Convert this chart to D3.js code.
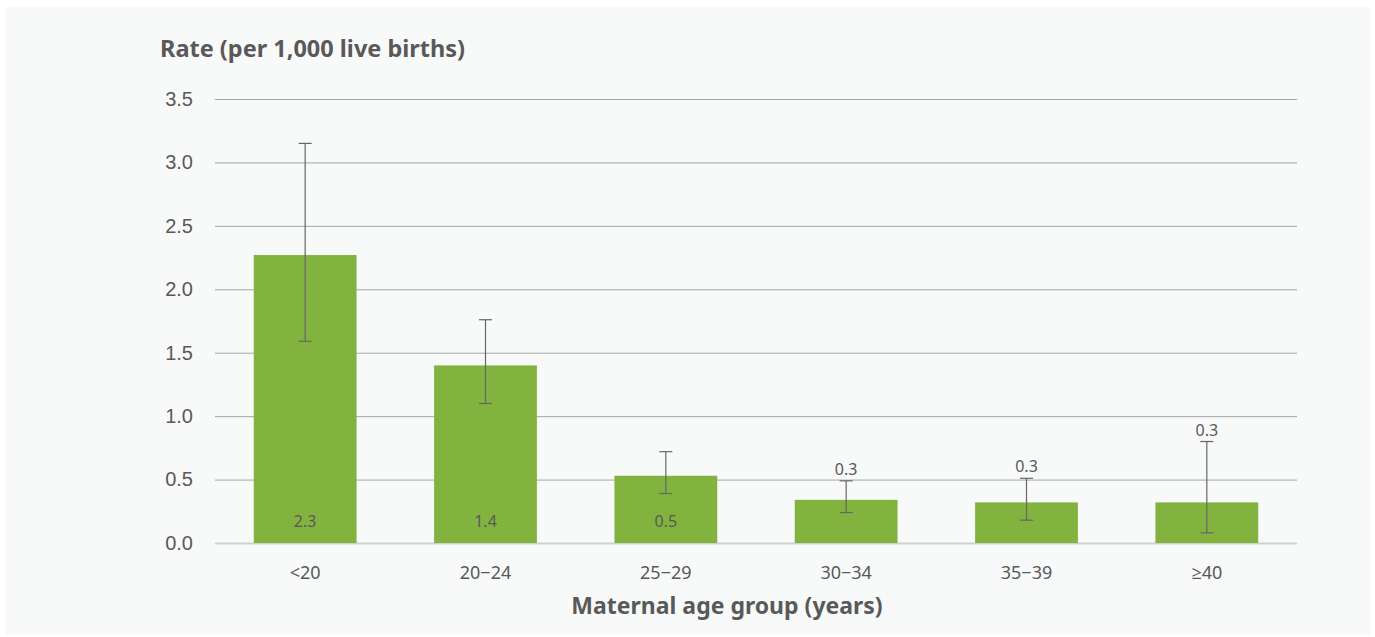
<!DOCTYPE html>
<html>
<head>
<meta charset="utf-8">
<script src="https://cdn.jsdelivr.net/npm/d3@7"></script>
<style>
  body { margin: 0; background: #fff; }
  svg { display: block; font-family: "Noto Sans", "Open Sans", sans-serif; }
</style>
</head>
<body>
<svg width="1375" height="637"></svg>
<script>
// age groups and rates (per 1,000 live births) with 95% CI
var groups = ["<20", "20\u221224", "25\u221229", "30\u221234", "35\u221239", "\u226540"];
var rates = [2.27, 1.40, 0.53, 0.34, 0.32, 0.32];
var lower = [1.59, 1.10, 0.39, 0.24, 0.18, 0.08];
var upper = [3.15, 1.76, 0.72, 0.49, 0.51, 0.80];
var rateLabels = ["2.3", "1.4", "0.5", "0.3", "0.3", "0.3"];
var yTicks = [0, 0.5, 1, 1.5, 2, 2.5, 3, 3.5];

var svg = d3.select("svg"),
  width = +svg.attr("width"),
  height = +svg.attr("height");

var margin = {top: 99, right: 78, bottom: 94, left: 215};

// light panel
svg.append("rect")
  .attr("x", 6).attr("y", 7)
  .attr("width", width - 11).attr("height", height - 9)
  .attr("fill", "#f8f9f9");

var x = d3.scaleBand()
  .domain(groups)
  .range([margin.left, width - margin.right])
  .paddingInner(0.43)
  .paddingOuter(0.215);

var y = d3.scaleLinear()
  .domain([0, 3.5])
  .range([height - margin.bottom, margin.top]);

var data = groups.map(function(g, i) {
  return {group: g, rate: rates[i], lo: lower[i], hi: upper[i], label: rateLabels[i]};
});

// gridlines + y labels
var yAxis = svg.append("g")
  .attr("transform", "translate(" + margin.left + ",0)")
  .call(d3.axisLeft(y).tickValues(yTicks).tickFormat(d3.format(".1f"))
    .tickSize(-(width - margin.right - margin.left)).tickPadding(22));
yAxis.select(".domain").remove();
yAxis.selectAll(".tick line")
  .attr("stroke", function(d) { return d === 0 ? "#cfcfcf" : "#a6a6a6"; })
  .attr("stroke-width", function(d) { return d === 0 ? 2 : 1; });
yAxis.selectAll(".tick text")
  .attr("fill", "#595959")
  .style("font-size", "20px");

// bars
svg.append("g").selectAll("rect")
  .data(data)
  .enter().append("rect")
  .attr("x", function(d) { return x(d.group); })
  .attr("y", function(d) { return y(d.rate); })
  .attr("width", x.bandwidth())
  .attr("height", function(d) { return y(0) - y(d.rate); })
  .attr("fill", "#82b33f");

// error bars
var err = svg.append("g").selectAll("g")
  .data(data)
  .enter().append("g")
  .attr("stroke", "#666")
  .attr("stroke-width", 1.2);
err.append("line")
  .attr("x1", function(d) { return x(d.group) + x.bandwidth() / 2; })
  .attr("x2", function(d) { return x(d.group) + x.bandwidth() / 2; })
  .attr("y1", function(d) { return y(d.lo); })
  .attr("y2", function(d) { return y(d.hi); });
err.selectAll("line.cap")
  .data(function(d) { return [{g: d.group, v: d.lo}, {g: d.group, v: d.hi}]; })
  .enter().append("line")
  .attr("class", "cap")
  .attr("x1", function(d) { return x(d.g) + x.bandwidth() / 2 - 6.5; })
  .attr("x2", function(d) { return x(d.g) + x.bandwidth() / 2 + 6.5; })
  .attr("y1", function(d) { return y(d.v); })
  .attr("y2", function(d) { return y(d.v); });

// value labels: inside the bar when tall enough, otherwise above the CI
svg.append("g").selectAll("text")
  .data(data)
  .enter().append("text")
  .attr("x", function(d) { return x(d.group) + x.bandwidth() / 2; })
  .attr("y", function(d) { return d.rate > 0.5 ? y(0) - 16 : y(d.hi) - 6; })
  .attr("text-anchor", "middle")
  .attr("fill", "#595959")
  .style("font-size", "16px")
  .text(function(d) { return d.label; });

// x labels
svg.append("g").selectAll("text")
  .data(groups)
  .enter().append("text")
  .attr("x", function(d) { return x(d) + x.bandwidth() / 2; })
  .attr("y", y(0) + 36)
  .attr("text-anchor", "middle")
  .attr("fill", "#595959")
  .style("font-size", "18px")
  .text(function(d) { return d; });

// axis titles
svg.append("text")
  .attr("x", 727)
  .attr("y", 614)
  .attr("text-anchor", "middle")
  .attr("fill", "#595959")
  .style("font-size", "23px")
  .style("font-weight", "bold")
  .text("Maternal age group (years)");

svg.append("text")
  .attr("x", 160)
  .attr("y", 57)
  .attr("fill", "#595959")
  .style("font-size", "23.5px")
  .style("font-weight", "bold")
  .text("Rate (per 1,000 live births)");
</script>
</body>
</html>
